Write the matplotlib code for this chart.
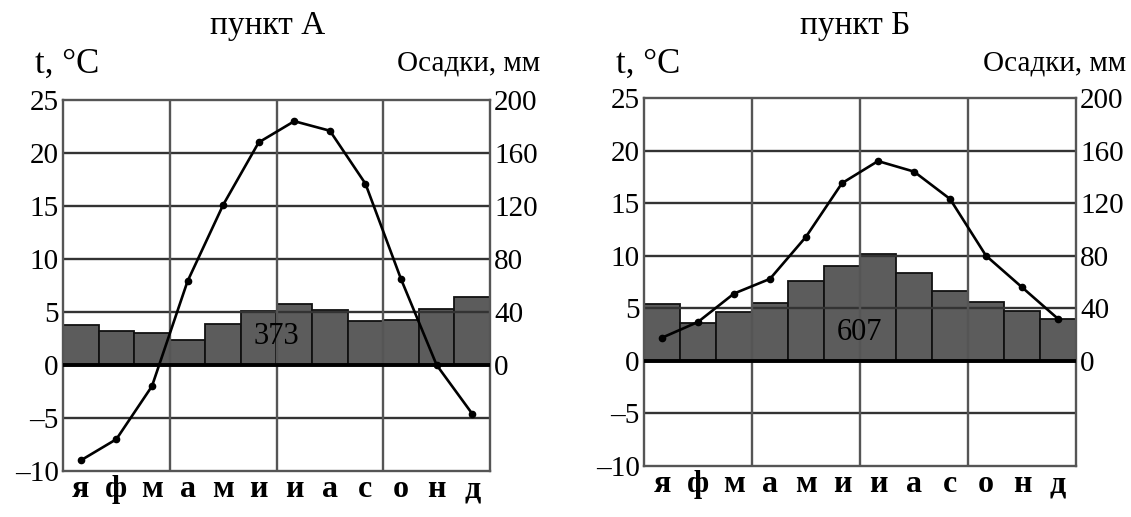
import matplotlib
matplotlib.use('Agg')
import matplotlib.pyplot as plt
import numpy as np

months = ['я', 'ф', 'м', 'а', 'м', 'и', 'и', 'а', 'с', 'о', 'н', 'д']

# пункт А
temp_a = [-9.0, -7.0, -2.0, 7.9, 15.1, 21.0, 23.0, 22.1, 17.1, 8.1, 0.0, -4.6]
prec_a = [30, 26, 24.5, 18.5, 31, 41, 46, 41.5, 33, 34, 42.5, 51]
total_a = 373

# пункт Б
temp_b = [2.2, 3.7, 6.4, 7.8, 11.8, 16.9, 19.0, 18.0, 15.4, 10.0, 7.0, 4.0]
prec_b = [43, 29, 37, 44, 61, 72.5, 81, 67, 53, 45, 38, 32]
total_b = 607

temp_ticks = [-10, -5, 0, 5, 10, 15, 20, 25]
prec_ticks = [0, 40, 80, 120, 160, 200]

plt.rcParams['font.family'] = ['Liberation Serif', 'DejaVu Serif']

W, H = 1131, 517
fig = plt.figure(figsize=(W / 100, H / 100), dpi=100)


def panel(rect, temps, precs, total, title, title_x):
    ax = fig.add_axes(rect)
    x = np.arange(12)
    # precipitation drawn on the temperature scale: 40 mm = 5 degrees
    ax.bar(x + 0.5, np.array(precs) / 8.0, width=1.0, color='#5c5c5c',
           edgecolor='#111111', linewidth=1.3, zorder=1)
    ax.set_xlim(0, 12)
    ax.set_ylim(-10, 25)
    ax.set_yticks(temp_ticks)
    ax.set_yticklabels([('–' + str(-t)) if t < 0 else str(t) for t in temp_ticks])
    ax.set_xticks(x + 0.5)
    ax.set_xticklabels(months, fontsize=23, fontweight='bold')
    ax.tick_params(axis='both', length=0)
    ax.tick_params(axis='y', labelsize=21, pad=3)
    ax.tick_params(axis='x', pad=3)
    for t in temp_ticks[1:-1]:
        ax.axhline(t, color='#333333', lw=1.7, zorder=2)
    for m in [3, 6, 9]:
        ax.axvline(m, color='#555555', lw=1.7, zorder=2)
    ax.axhline(0, color='black', lw=2.8, zorder=3)
    for s in ax.spines.values():
        s.set_color('#555555')
        s.set_linewidth(1.7)
    ax.plot(x + 0.5, temps, '-o', color='black', lw=1.9, markersize=4.5, zorder=5)
    ax.text(6, 2.7, str(total), ha='center', va='center', fontsize=22, zorder=6)

    ax2 = ax.twinx()
    ax2.set_ylim(-80, 200)
    ax2.set_yticks(prec_ticks)
    ax2.tick_params(axis='y', length=0, labelsize=21, pad=3)
    for s in ax2.spines.values():
        s.set_visible(False)

    fig.text(title_x, 1 - 26 / H, title, ha='center', va='center', fontsize=24)
    left = rect[0]
    right = rect[0] + rect[2]
    fig.text(left - 28 / W, 1 - 64 / H, 't, °C', ha='left', va='center', fontsize=25)
    fig.text(right + 50 / W, 1 - 64 / H, 'Осадки, мм', ha='right', va='center', fontsize=21)
    return ax


panel([63 / W, 46 / H, 427 / W, 371 / H], temp_a, prec_a, total_a, 'пункт А', 268 / W)
panel([644 / W, 51 / H, 432 / W, 368 / H], temp_b, prec_b, total_b, 'пункт Б', 855 / W)

plt.savefig('out.png', dpi=100)
plt.close()
